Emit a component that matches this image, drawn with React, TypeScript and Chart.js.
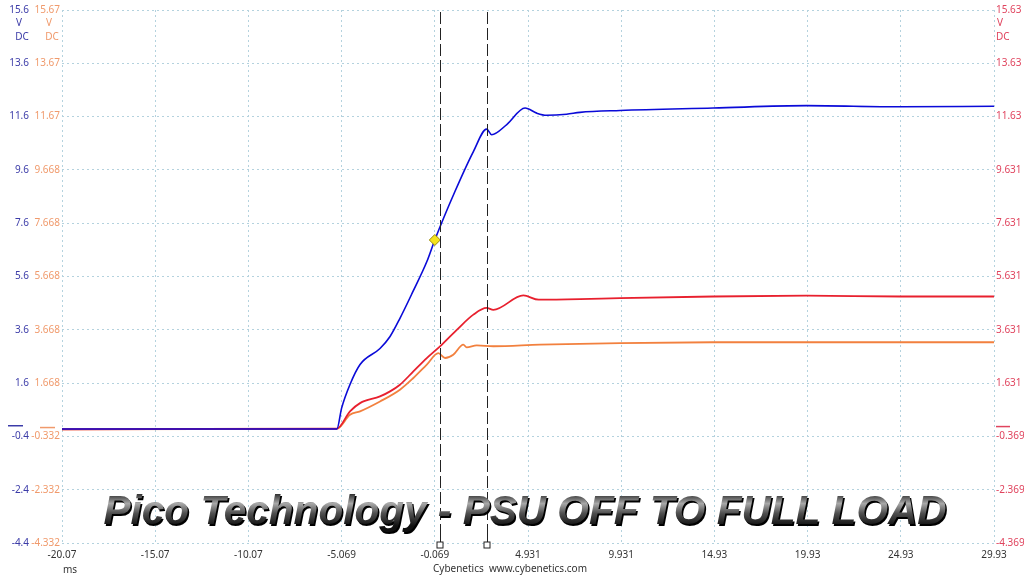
import React, { useEffect, useRef } from "react";
import { Chart, registerables } from "chart.js";

Chart.register(...registerables);

// ---- axis ticks ----
const xTickValues = [-20.07, -15.07, -10.07, -5.069, -0.069, 4.931, 9.931, 14.93, 19.93, 24.93, 29.93];
const xTickLabels = ["-20.07", "-15.07", "-10.07", "-5.069", "-0.069", "4.931", "9.931", "14.93", "19.93", "24.93", "29.93"];

const blueTickValues = [-4.4, -2.4, -0.4, 1.6, 3.6, 5.6, 7.6, 9.6, 11.6, 13.6, 15.6];
const blueTickLabels = ["-4.4", "-2.4", "-0.4", "1.6", "3.6", "5.6", "7.6", "9.6", "11.6", "13.6", "15.6"];

const orangeTickValues = [-4.332, -2.332, -0.332, 1.668, 3.668, 5.668, 7.668, 9.668, 11.668, 13.668, 15.668];
const orangeTickLabels = ["-4.332", "-2.332", "-0.332", "1.668", "3.668", "5.668", "7.668", "9.668", "11.67", "13.67", "15.67"];

const redTickValues = [-4.369, -2.369, -0.369, 1.631, 3.631, 5.631, 7.631, 9.631, 11.631, 13.631, 15.631];
const redTickLabels = ["-4.369", "-2.369", "-0.369", "1.631", "3.631", "5.631", "7.631", "9.631", "11.63", "13.63", "15.63"];

// ---- series (time in ms, volts) ----
const blueTimes = [-20.07, -5.32, -5.07, -4.62, -4.08, -3.01, -2.47, -1.94, -1.24, -0.49, -0.06, 1.01, 2.0, 2.71, 2.98, 3.79, 4.77, 5.4, 5.93, 7.0, 7.72, 9.87, 14.87, 19.88, 24.9, 29.93];
const blueValues = [-0.12, -0.12, 0.66, 1.55, 2.3, 2.9, 3.35, 4.03, 5.04, 6.17, 6.99, 8.79, 10.29, 11.13, 10.92, 11.3, 11.92, 11.73, 11.65, 11.69, 11.76, 11.83, 11.92, 12.01, 11.97, 11.99];

const redTimes = [-20.07, -5.33, -4.62, -4.08, -3.01, -2.47, -1.94, -1.22, -0.5, 0.21, 1.11, 2.0, 2.71, 3.07, 4.68, 5.5, 7.72, 9.87, 14.87, 19.88, 24.9, 29.93];
const redValues = [-0.1, -0.08, 0.57, 0.88, 1.13, 1.32, 1.57, 2.07, 2.57, 3.01, 3.63, 4.2, 4.45, 4.38, 4.92, 4.76, 4.78, 4.82, 4.88, 4.91, 4.88, 4.88];

const orangeTimes = [-20.07, -5.33, -4.62, -4.08, -3.01, -1.94, -1.22, -0.5, 0.12, 0.48, 0.92, 1.46, 1.64, 2.18, 3.07, 5.57, 9.87, 14.87, 19.88, 29.93];
const orangeValues = [-0.07, -0.05, 0.48, 0.61, 0.98, 1.42, 1.86, 2.36, 2.79, 2.61, 2.73, 3.11, 3.01, 3.08, 3.05, 3.11, 3.17, 3.2, 3.2, 3.2];

const triggerTime = [-0.069];
const triggerValue = [6.97];

const cursorTimes = [0.21, 2.73];

const titleText = "Pico Technology - PSU OFF TO FULL LOAD";
const footerText = "Cybenetics  www.cybenetics.com";
const unitText = "ms";

const BLUE = "#0a0ad8";
const RED = "#e8202e";
const ORANGE = "#f2803e";
const BLUE_TXT = "#3c3ca8";
const ORANGE_TXT = "#f09a6c";
const RED_TXT = "#e0445e";
const GRID = "#b4d2de";
const FONT = "'Noto Sans', 'Open Sans', sans-serif";

const overlayPlugin = {
  id: "overlayPlugin",
  beforeDraw(chart: any) {
    const ctx = chart.ctx;
    ctx.save();
    ctx.fillStyle = "#ffffff";
    ctx.fillRect(0, 0, chart.width, chart.height);
    ctx.restore();
  },
  afterDatasetsDraw(chart: any) {
    const ctx = chart.ctx;
    const xs = chart.scales.x;
    const area = chart.chartArea;
    ctx.save();
    cursorTimes.forEach((t) => {
      const px = Math.round(xs.getPixelForValue(t)) + 0.5;
      ctx.strokeStyle = "#222";
      ctx.lineWidth = 1;
      ctx.setLineDash([12, 4]);
      ctx.beginPath();
      ctx.moveTo(px, area.top + 2);
      ctx.lineTo(px, area.bottom - 11);
      ctx.stroke();
      ctx.setLineDash([]);
      ctx.beginPath();
      ctx.moveTo(px, area.bottom - 11);
      ctx.lineTo(px, area.bottom);
      ctx.stroke();
      ctx.fillStyle = "#fff";
      ctx.fillRect(px - 3.5, area.bottom - 1, 6, 6);
      ctx.strokeRect(px - 3.5, area.bottom - 1, 6, 6);
    });
    ctx.restore();
  },
  afterDraw(chart: any) {
    const ctx = chart.ctx;
    const area = chart.chartArea;
    ctx.save();
    // unit labels
    ctx.font = `10px ${FONT}`;
    ctx.textBaseline = "middle";
    ctx.textAlign = "center";
    ctx.fillStyle = BLUE_TXT;
    ctx.fillText("V", 19, 23);
    ctx.fillText("DC", 22, 37);
    ctx.fillStyle = ORANGE_TXT;
    ctx.fillText("V", 49, 23);
    ctx.fillText("DC", 52, 37);
    ctx.textAlign = "left";
    ctx.fillStyle = RED_TXT;
    ctx.fillText("V", 997, 23);
    ctx.fillText("DC", 996, 37);

    // zero markers
    const zb = chart.scales.yB.getPixelForValue(0);
    const zo = chart.scales.yO.getPixelForValue(0);
    const zr = chart.scales.yR.getPixelForValue(0);
    ctx.lineWidth = 1.5;
    ctx.strokeStyle = BLUE_TXT;
    ctx.beginPath(); ctx.moveTo(8, zb); ctx.lineTo(23, zb); ctx.stroke();
    ctx.strokeStyle = ORANGE_TXT;
    ctx.beginPath(); ctx.moveTo(40, zo); ctx.lineTo(55, zo); ctx.stroke();
    ctx.strokeStyle = RED_TXT;
    ctx.beginPath(); ctx.moveTo(996, zr); ctx.lineTo(1010, zr); ctx.stroke();

    // footer
    ctx.fillStyle = "#333";
    ctx.textAlign = "left";
    ctx.fillText(unitText, area.left + 1, 570);
    ctx.textAlign = "center";
    ctx.fillText(footerText, 510, 569);

    // title
    ctx.font = `italic bold 40.6px 'Liberation Sans', Arial, sans-serif`;
    ctx.textAlign = "center";
    ctx.textBaseline = "alphabetic";
    const cx = 525;
    const by = 524;
    ctx.fillStyle = "#000";
    ctx.fillText(titleText, cx + 1.5, by + 1.5);
    const g = ctx.createLinearGradient(0, by - 30, 0, by + 2);
    g.addColorStop(0, "#303030");
    g.addColorStop(0.3, "#a8a8a8");
    g.addColorStop(0.6, "#505050");
    g.addColorStop(1, "#101010");
    ctx.fillStyle = g;
    ctx.fillText(titleText, cx, by);
    ctx.restore();
  },
};

function makeYAxis(position: string, weight: number, min: number, max: number, values: number[], labels: string[], color: string, width: number, showGrid: boolean) {
  return {
    type: "linear",
    position,
    weight,
    min,
    max,
    afterBuildTicks: (s: any) => {
      s.ticks = values.map((v) => ({ value: v }));
    },
    afterFit: (s: any) => {
      s.width = width;
    },
    ticks: {
      color,
      font: { family: FONT, size: 10 },
      padding: 2,
      autoSkip: false,
      maxRotation: 0,
      callback: (_v: any, i: number) => labels[i],
    },
    grid: { display: showGrid, color: GRID, drawTicks: false, lineWidth: 1 },
    border: { display: false, dash: [2, 3] },
  };
}

export default function App() {
  const ref = useRef<HTMLCanvasElement | null>(null);
  useEffect(() => {
    if (!ref.current) return;
    const toPts = (ts: number[], vs: number[]) => ts.map((t, i) => ({ x: t, y: vs[i] }));
    const chart = new Chart(ref.current, {
      type: "line",
      data: {
        datasets: [
          {
            label: "trigger",
            data: toPts(triggerTime, triggerValue),
            yAxisID: "yB",
            showLine: false,
            pointStyle: "rectRot",
            pointRadius: 5.5,
            pointBackgroundColor: "#f4e21c",
            pointBorderColor: "#9a8a10",
            pointBorderWidth: 1,
            order: 0,
          },
          {
            label: "A",
            data: toPts(blueTimes, blueValues),
            yAxisID: "yB",
            borderColor: BLUE,
            borderWidth: 1.6,
            pointRadius: 0,
            cubicInterpolationMode: "monotone",
            order: 1,
          },
          {
            label: "C",
            data: toPts(redTimes, redValues),
            yAxisID: "yR",
            borderColor: RED,
            borderWidth: 1.8,
            pointRadius: 0,
            cubicInterpolationMode: "monotone",
            order: 2,
          },
          {
            label: "B",
            data: toPts(orangeTimes, orangeValues),
            yAxisID: "yO",
            borderColor: ORANGE,
            borderWidth: 1.8,
            pointRadius: 0,
            cubicInterpolationMode: "monotone",
            order: 3,
          },
        ],
      },
      options: {
        responsive: false,
        animation: false,
        events: [],
        layout: { padding: { top: 10, left: 0, right: 0, bottom: 0 } },
        plugins: { legend: { display: false }, tooltip: { enabled: false } },
        scales: {
          x: {
            type: "linear",
            position: "bottom",
            min: -20.07,
            max: 29.93,
            afterBuildTicks: (s: any) => {
              s.ticks = xTickValues.map((v) => ({ value: v }));
            },
            afterFit: (s: any) => {
              s.height = 33;
            },
            ticks: {
              color: "#333",
              font: { family: FONT, size: 10 },
              padding: 6,
              autoSkip: false,
              maxRotation: 0,
              callback: (_v: any, i: number) => xTickLabels[i],
            },
            grid: { color: GRID, drawTicks: false, lineWidth: 1 },
            border: { display: false, dash: [2, 3] },
          },
          yB: makeYAxis("left", 2, -4.4, 15.6, blueTickValues, blueTickLabels, BLUE_TXT, 31, true),
          yO: makeYAxis("left", 1, -4.332, 15.668, orangeTickValues, orangeTickLabels, ORANGE_TXT, 31, false),
          yR: makeYAxis("right", 1, -4.369, 15.631, redTickValues, redTickLabels, RED_TXT, 30, false),
        } as any,
      },
      plugins: [overlayPlugin],
    } as any);
    return () => chart.destroy();
  }, []);
  return (
    <div style={{ position: "fixed", left: 0, top: 0, width: 1024, height: 576, background: "#fff" }}>
      <canvas ref={ref} width={1024} height={576} style={{ display: "block" }} />
    </div>
  );
}
